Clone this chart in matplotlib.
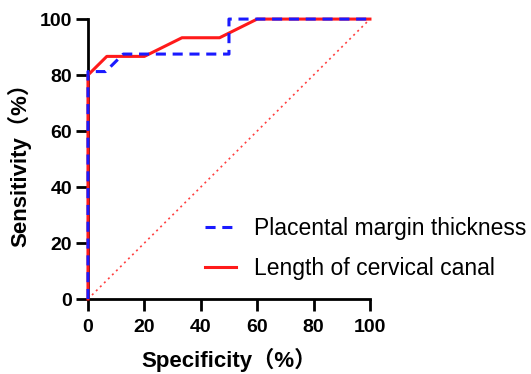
import matplotlib.pyplot as plt

# ROC curves (specificity is plotted as 100 - specificity, i.e. FPR in %)
placental_x = [0, 0, 6.25, 12.5, 50, 50, 100]
placental_y = [0, 81.25, 81.25, 87.5, 87.5, 100, 100]
cervical_x = [0, 0, 6.67, 20, 33.33, 46.67, 60, 100]
cervical_y = [0, 80, 86.67, 86.67, 93.33, 93.33, 100, 100]
ref_x = [0, 100]
ref_y = [0, 100]
ticks = [0, 20, 40, 60, 80, 100]

plt.rcParams['font.family'] = ['Liberation Sans', 'Noto Sans CJK SC']

fig = plt.figure(figsize=(5.31, 3.74), dpi=100)
ax = fig.add_axes([0.1657, 0.2005, 0.531, 0.7485])

ax.plot(ref_x, ref_y, color='#ff4040', lw=1.2, ls=(0, (1.2, 2.2)))
ax.plot(cervical_x, cervical_y, color='#ff1a1a', lw=2.2, label='Length of cervical canal', zorder=3)
ax.plot(placental_x, placental_y, color='#1a1aff', lw=2.2, ls=(0, (3.3, 2.2)), label='Placental margin thickness', zorder=4)

ax.set_xlim(0, 100)
ax.set_ylim(0, 100)
ax.set_xticks(ticks)
ax.set_yticks(ticks)
for s in ['top', 'right']:
    ax.spines[s].set_visible(False)
for s in ['left', 'bottom']:
    ax.spines[s].set_linewidth(2)
ax.tick_params(width=2, length=8.5, labelsize=14)
ax.tick_params(axis='x', pad=6)
ax.tick_params(axis='y', pad=3)
for lab in ax.get_xticklabels() + ax.get_yticklabels():
    lab.set_fontweight('bold')

ax.set_xlabel('Specificity（%）', fontsize=16, fontweight='bold', labelpad=8.5)
ax.set_ylabel('Sensitivity（%）', fontsize=16, fontweight='bold', labelpad=6)

handles, labels = ax.get_legend_handles_labels()
ax.legend(handles[::-1], labels[::-1], loc='center left', bbox_to_anchor=(0.415, 0.179),
          frameon=False, fontsize=16.5, handlelength=1.35, handletextpad=0.8,
          labelspacing=0.75, borderpad=0, borderaxespad=0)

for ln in ax.lines:
    ln.set_clip_on(False)

fig.savefig('out.png', dpi=100)
